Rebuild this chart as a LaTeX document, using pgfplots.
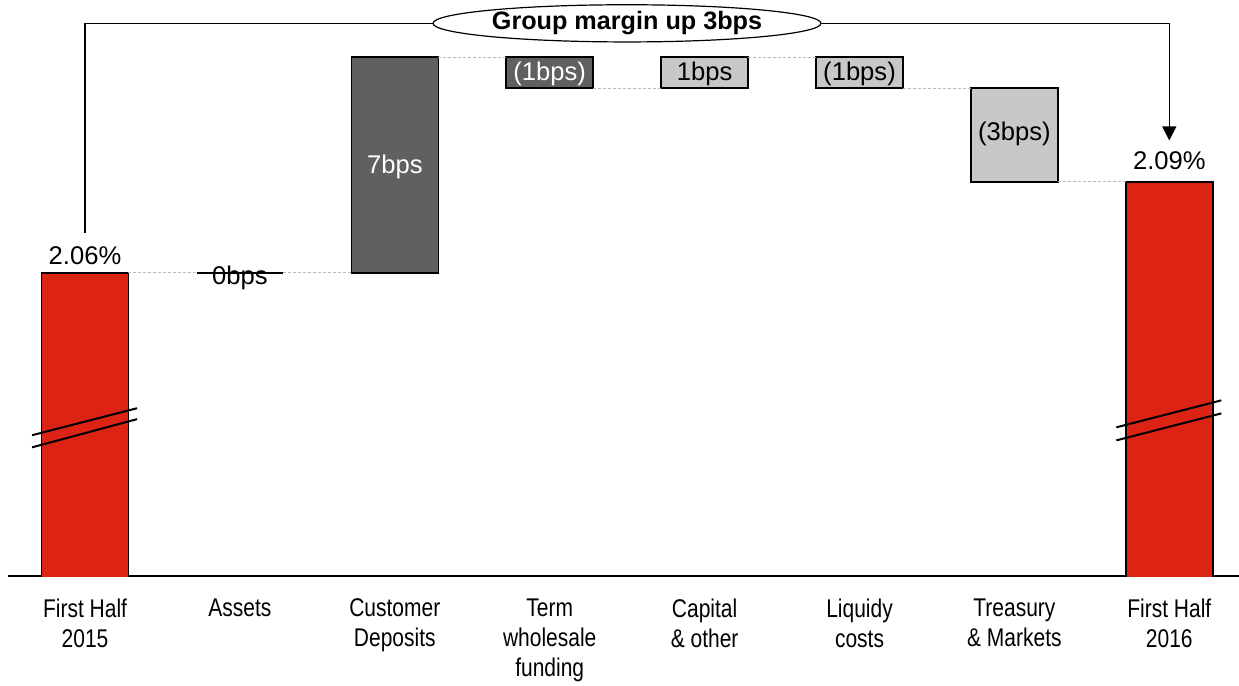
\documentclass[border=0pt]{standalone}
\usepackage{fontspec}
\setmainfont{Liberation Sans}[FakeStretch=0.82]
\newfontfamily\plainfont{Liberation Sans}
\usepackage{pgfplots}
\usepackage{pgfplotstable}
\pgfplotsset{compat=1.18}
\usetikzlibrary{arrows.meta}
\definecolor{barred}{RGB}{220,35,20}
\definecolor{bardark}{RGB}{96,96,96}
\definecolor{barlight}{RGB}{200,200,200}
\definecolor{conn}{RGB}{185,185,185}

\pgfplotstableread{
x base red dark light
0 0 2.06 0 0
1 2.06 0 0 0
2 2.06 0 0.0711 0
3 2.1209 0 0.0102 0
4 2.1209 0 0 0.0102
5 2.1209 0 0 0.0102
6 2.09 0 0 0.0309
7 0 2.09 0 0
}\wf

\pgfplotsset{frame/.style={x=77.45pt, y=1516.5pt,
  xmin=-0.5, xmax=7.45, ymin=1.96, ymax=2.15}}

\begin{document}
\fontsize{12.8}{15}\selectfont
\begin{tikzpicture}[lbl/.style={font=\plainfont\fontsize{12.8}{15}\selectfont}]
\begin{axis}[
  frame,
  ybar stacked, bar width=43.5pt,
  axis x line=bottom, axis y line=none,
  axis line style={-, line width=0.75pt},
  xtick={0,1,2,3,4,5,6,7},
  xticklabels={{First Half\\2015},{Assets},{Customer\\Deposits},{Term\\wholesale\\funding},{Capital\\\& other},{Liquidy\\costs},{Treasury\\\& Markets},{First Half\\2016}},
  xticklabel style={align=center, font=\fontsize{12.8}{15}\selectfont, yshift=-7pt},
  major tick length=0pt,
  ytick=\empty,
]
\addplot[fill=none, draw=none] table[x=x,y=base]{\wf};
\addplot[fill=barred, draw=black, line width=0.75pt] table[x=x,y=red]{\wf};
\addplot[fill=bardark, draw=black, line width=0.75pt] table[x=x,y=dark]{\wf};
\addplot[fill=barlight, draw=black, line width=0.75pt] table[x=x,y=light]{\wf};
\coordinate (TL) at (axis cs:-0.549,2.15);
\coordinate (BR) at (axis cs:7.45,1.924);
\end{axis}
\begin{axis}[frame, hide axis, clip=false]
% connectors
\addplot[conn, dash pattern=on 1.5pt off 1pt, line width=0.5pt, forget plot] coordinates {(0.28,2.06) (1.72,2.06)};
\addplot[conn, dash pattern=on 1.5pt off 1pt, line width=0.5pt, forget plot] coordinates {(2.28,2.1311) (2.72,2.1311)};
\addplot[conn, dash pattern=on 1.5pt off 1pt, line width=0.5pt, forget plot] coordinates {(3.28,2.1209) (3.72,2.1209)};
\addplot[conn, dash pattern=on 1.5pt off 1pt, line width=0.5pt, forget plot] coordinates {(4.28,2.1311) (4.72,2.1311)};
\addplot[conn, dash pattern=on 1.5pt off 1pt, line width=0.5pt, forget plot] coordinates {(5.28,2.1209) (5.72,2.1209)};
\addplot[conn, dash pattern=on 1.5pt off 1pt, line width=0.5pt, forget plot] coordinates {(6.28,2.09) (6.72,2.09)};

% break marks
\draw[black, line width=1pt] (axis cs:-0.342,2.0065) -- (axis cs:0.336,2.0154);
\draw[black, line width=1pt] (axis cs:-0.342,2.0025) -- (axis cs:0.336,2.0118);
\draw[black, line width=1pt] (axis cs:6.658,2.0091) -- (axis cs:7.336,2.0180);
\draw[black, line width=1pt] (axis cs:6.658,2.0048) -- (axis cs:7.336,2.0137);

% value labels
\node[lbl, anchor=base, inner sep=0pt] at (axis cs:0,2.0627) {2.06\%};
\node[lbl, anchor=base, inner sep=0pt] at (axis cs:1,2.0563) {0bps};
\addplot[black, line width=1.2pt, forget plot] coordinates {(0.72,2.06) (1.28,2.06)};
\node[lbl, anchor=center, text=white] at (axis cs:2,2.0950) {7bps};
\node[lbl, anchor=center, text=white, inner sep=0pt] at (axis cs:3,2.1258) {(1bps)};
\node[lbl, anchor=center, inner sep=0pt] at (axis cs:4,2.1258) {1bps};
\node[lbl, anchor=center, inner sep=0pt] at (axis cs:5,2.1258) {(1bps)};
\node[lbl, anchor=center, inner sep=0pt] at (axis cs:6,2.1058) {(3bps)};
\node[lbl, anchor=base, inner sep=0pt] at (axis cs:7,2.0940) {2.09\%};

% group margin annotation
\draw[black, line width=0.75pt, -{Triangle[length=7pt,width=7pt]}]
  (axis cs:0,2.0731) -- (axis cs:0,2.1423) -- (axis cs:7,2.1423) -- (axis cs:7,2.1037);
\draw[black, fill=white, line width=0.6pt] (axis cs:3.499,2.1423) ellipse [x radius=97pt, y radius=9.3pt];
\node[anchor=center, font=\plainfont\bfseries\fontsize{12.6}{15}\selectfont] at (axis cs:3.499,2.1423) {Group margin up 3bps};
\end{axis}
\pgfresetboundingbox
\path[use as bounding box] (TL) rectangle (BR);
\end{tikzpicture}
\end{document}
